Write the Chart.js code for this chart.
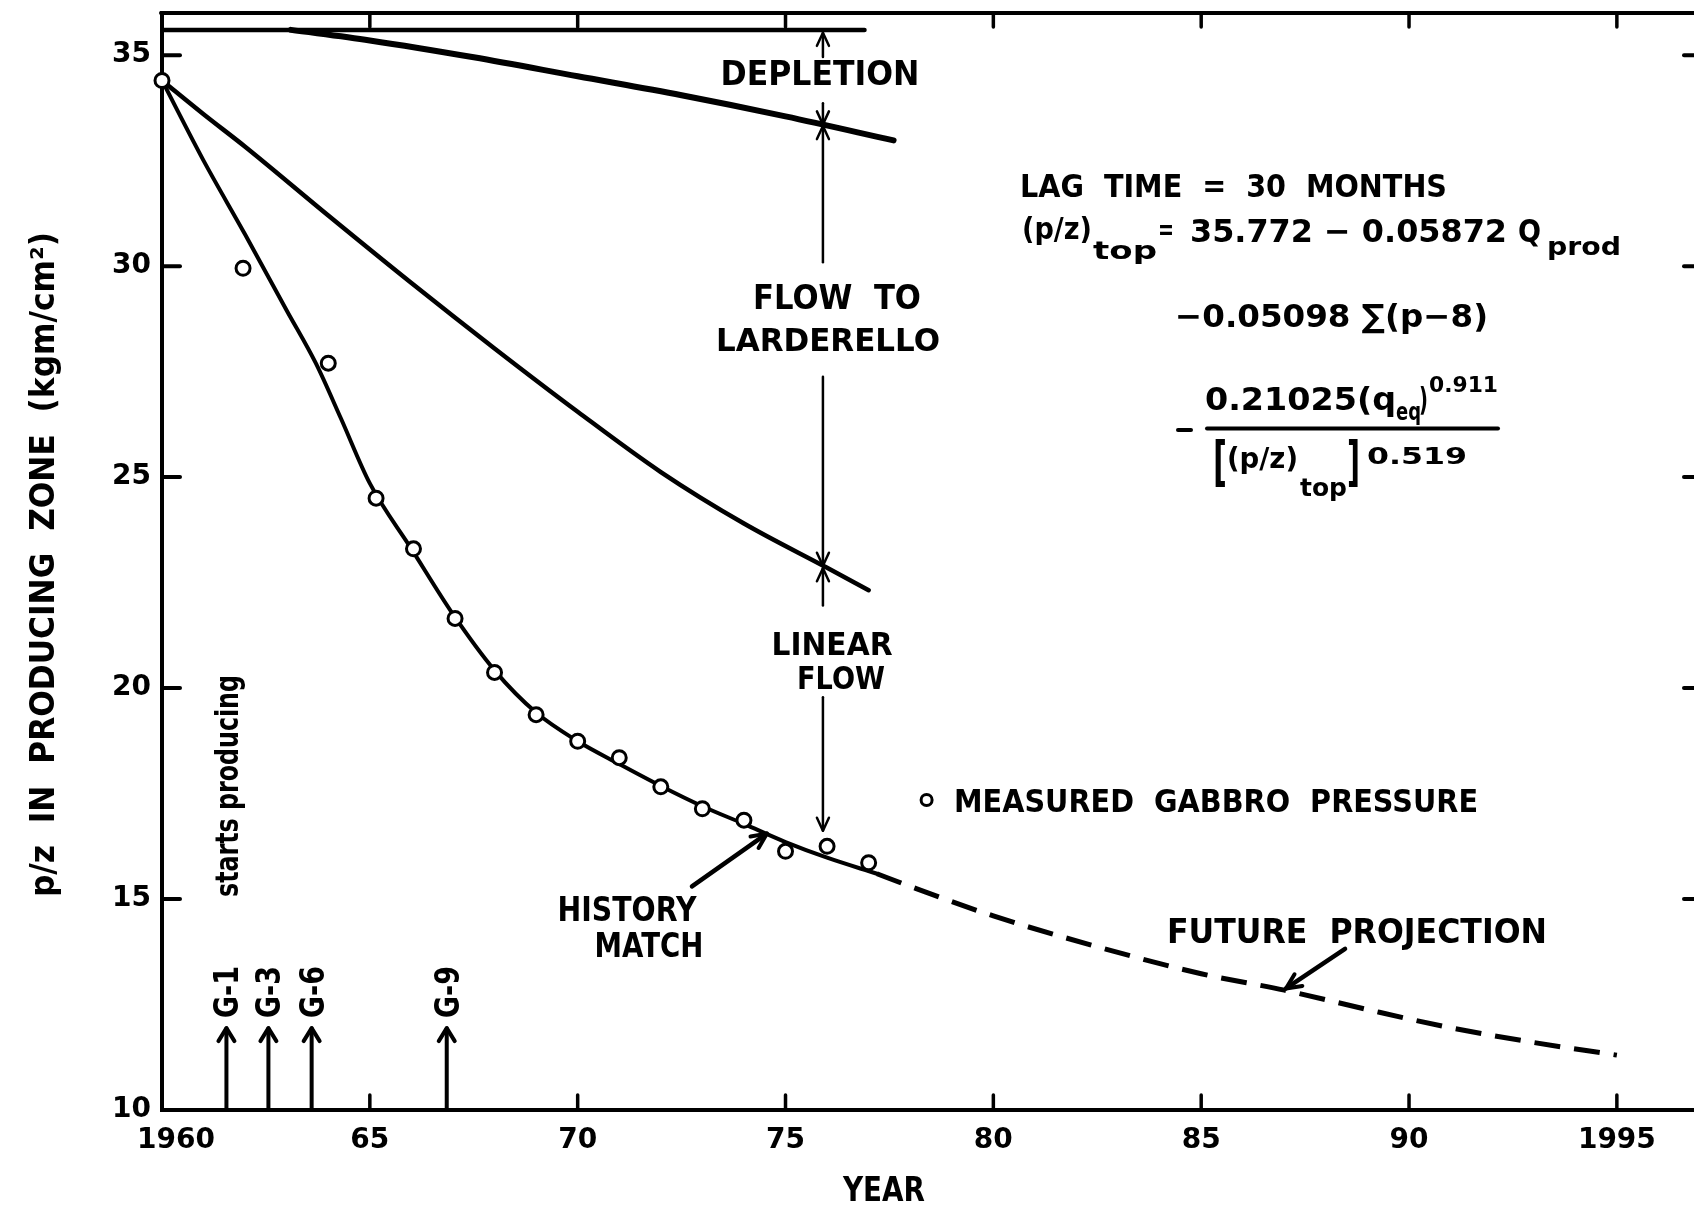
<!DOCTYPE html>
<html>
<head>
<meta charset="utf-8">
<script src="https://cdn.jsdelivr.net/npm/chart.js@4.4.1/dist/chart.umd.min.js"></script>
<style>
  html, body { margin: 0; padding: 0; background: #fff; overflow: hidden; }
  #wrap { width: 1720px; height: 1207px; position: relative; background: #fff; }
  canvas { display: block; }
</style>
</head>
<body>
<div id="wrap"><canvas id="c" width="1720" height="1207"></canvas></div>
<script>
// ---------------- data ----------------
const xTickValues = [1960, 1965, 1970, 1975, 1980, 1985, 1990, 1995];
const xTickLabels = ['\u20031960', '65', '70', '75', '80', '85', '90', '1995'];
const yTickValues = [10, 15, 20, 25, 30, 35];
const yTickLabels = ['10', '15', '20', '25', '30', '35'];

const measuredYears = [1960, 1961.95, 1964, 1965.15, 1966.05, 1967.05, 1968, 1969, 1970, 1971, 1972, 1973, 1974, 1975, 1976, 1977];
const measuredPZ    = [34.4, 29.95, 27.7, 24.5, 23.3, 21.65, 20.37, 19.37, 18.74, 18.35, 17.66, 17.14, 16.87, 16.13, 16.25, 15.86];

const historyYears = [1960, 1961, 1962, 1963, 1963.7, 1964.3, 1965, 1966, 1967, 1968, 1969, 1970, 1971, 1972, 1973, 1974, 1975, 1976, 1977.2];
const historyPZ    = [34.4, 32.5, 30.75, 28.95, 27.7, 26.4, 24.85, 23.3, 21.75, 20.42, 19.42, 18.74, 18.2, 17.68, 17.2, 16.78, 16.35, 15.98, 15.6];

const projectionYears = [1977.2, 1978, 1980, 1982.5, 1985, 1987, 1989, 1991, 1993, 1995];
const projectionPZ    = [15.6, 15.3, 14.6, 13.87, 13.23, 12.84, 12.38, 11.95, 11.6, 11.3];

const larderelloYears = [1960, 1961, 1962, 1964, 1966, 1968, 1970, 1972, 1974, 1976, 1977];
const larderelloPZ    = [34.4, 33.6, 32.83, 31.2, 29.6, 28.05, 26.55, 25.12, 23.9, 22.85, 22.32];

const depletionYears = [1963.1, 1965, 1967.5, 1970, 1972.5, 1975, 1977.6];
const depletionPZ    = [35.6, 35.35, 34.95, 34.5, 34.05, 33.55, 32.98];

const initialTopYears = [1960, 1976.9];
const initialTopPZ    = [35.6, 35.6];

const wellNames = ['G-1', 'G-3', 'G-6', 'G-9'];
const wellYears = [1961.55, 1962.56, 1963.6, 1966.85];
const wellArrowTopPZ = 11.94;

const dimensionYear = 1975.9;

// ---------------- helpers ----------------
const FONT = "'DejaVu Sans', 'Liberation Sans', sans-serif";
const pts = (xs, ys) => xs.map((x, i) => ({ x: x, y: ys[i] }));

function textBox(ctx, s, left, right, baseline, size) {
  ctx.save();
  ctx.font = 'bold ' + size + 'px ' + FONT;
  ctx.textAlign = 'left';
  ctx.textBaseline = 'alphabetic';
  const w = ctx.measureText(s).width;
  ctx.translate(left, baseline);
  ctx.scale((right - left) / w, 1);
  ctx.fillText(s, 0, 0);
  ctx.restore();
}
function textC(ctx, s, cx, cy, cap, w) {
  textBox(ctx, s, cx - w / 2, cx + w / 2, cy + cap / 2, cap / 0.729);
}
function textR(ctx, s, cx, yBottom, yTop, cap) {
  ctx.save();
  ctx.translate(cx, yBottom);
  ctx.rotate(-Math.PI / 2);
  textBox(ctx, s, 0, yBottom - yTop, cap / 2, cap / 0.729);
  ctx.restore();
}

const annot = {
  id: 'annot',
  afterDraw(chart) {
    const ctx = chart.ctx, xs = chart.scales.x, ys = chart.scales.y, a = chart.chartArea;
    const X = v => xs.getPixelForValue(v), Y = v => ys.getPixelForValue(v);
    ctx.save();
    ctx.strokeStyle = '#000'; ctx.fillStyle = '#000';
    ctx.lineCap = 'round'; ctx.lineJoin = 'round';
    const seg = (x1, y1, x2, y2, w) => { ctx.lineWidth = w; ctx.beginPath(); ctx.moveTo(x1, y1); ctx.lineTo(x2, y2); ctx.stroke(); };
    const head = (tx, ty, fx, fy, len, half, w) => {
      const ang = Math.atan2(ty - fy, tx - fx), ux = Math.cos(ang), uy = Math.sin(ang);
      const bx = tx - ux * len, by = ty - uy * len;
      ctx.lineWidth = w; ctx.beginPath();
      ctx.moveTo(bx - uy * half, by + ux * half); ctx.lineTo(tx, ty); ctx.lineTo(bx + uy * half, by - ux * half);
      ctx.stroke();
    };

    // frame (top / right) and inward ticks
    seg(a.left - 1, a.top, a.right, a.top, 4);
    seg(a.right, a.top, a.right, a.bottom, 4);
    xTickValues.forEach(v => {
      if (v === xTickValues[0]) return;
      seg(X(v), a.bottom, X(v), a.bottom - 15, 3.5);
      seg(X(v), a.top, X(v), a.top + 14, 3.5);
    });
    yTickValues.forEach(v => {
      if (v === yTickValues[0]) return;
      seg(a.left, Y(v), a.left + 18, Y(v), 4);
      seg(a.right, Y(v), a.right - 16, Y(v), 4);
    });

    // dimension arrows at 1976
    const dx = X(dimensionYear), lw = 2.5, hl = 13, hw = 6;
    seg(dx, Y(35.53), dx, Y(34.96), lw); head(dx, Y(35.53), dx, Y(34.96), hl, hw, lw);
    seg(dx, Y(33.86), dx, Y(33.36), lw); head(dx, Y(33.36), dx, Y(33.86), hl, hw, lw);
    seg(dx, Y(33.32), dx, Y(30.09), lw); head(dx, Y(33.32), dx, Y(30.09), hl, hw, lw);
    seg(dx, Y(27.38), dx, Y(22.9), lw);  head(dx, Y(22.9), dx, Y(27.38), hl, hw, lw);
    seg(dx, Y(22.84), dx, Y(21.96), lw); head(dx, Y(22.84), dx, Y(21.96), hl, hw, lw);
    seg(dx, Y(19.78), dx, Y(16.62), lw); head(dx, Y(16.62), dx, Y(19.78), hl, hw, lw);

    textC(ctx, 'DEPLETION', 820, 72.5, 25, 199);
    textC(ctx, 'FLOW  TO', 837, 297, 24, 168);
    textC(ctx, 'LARDERELLO', 828, 339, 23, 224);
    textC(ctx, 'LINEAR', 832, 643, 23, 121);
    textC(ctx, 'FLOW', 841, 677, 23, 88);

    // well start arrows
    wellYears.forEach((yr, i) => {
      const wx = X(yr);
      seg(wx, Y(10), wx, Y(wellArrowTopPZ), 4);
      head(wx, Y(wellArrowTopPZ), wx, Y(10), 13, 8, 4);
      textR(ctx, wellNames[i], wx, 1018, 966, 24);
    });
    textR(ctx, 'starts producing', X(wellYears[0]), 897, 675, 23);

    // history match arrow
    const hx1 = X(1972.75), hy1 = Y(15.3), hx2 = X(1974.55), hy2 = Y(16.55);
    seg(hx1, hy1, hx2, hy2, 4.5); head(hx2, hy2, hx1, hy1, 15, 7, 4);
    textC(ctx, 'HISTORY', 627, 908, 25, 139);
    textC(ctx, 'MATCH', 649, 944, 25, 109);

    // future projection arrow
    const fx1 = X(1988.46), fy1 = Y(13.82), fx2 = X(1987.04), fy2 = Y(12.88);
    seg(fx1, fy1, fx2, fy2, 4.5); head(fx2, fy2, fx1, fy1, 15, 7, 4);
    textC(ctx, 'FUTURE  PROJECTION', 1357, 930, 25, 380);

    // legend
    ctx.lineWidth = 3; ctx.beginPath(); ctx.arc(926.6, 800, 5.5, 0, Math.PI * 2); ctx.stroke();
    textC(ctx, 'MEASURED  GABBRO  PRESSURE', 1216, 800, 23, 524);

    // formula
    textBox(ctx, 'LAG  TIME  =  30  MONTHS', 1020, 1447, 196.7, 32);
    textBox(ctx, '(p/z)', 1022, 1092, 239, 30);
    textBox(ctx, 'top', 1093, 1157, 259, 25);
    textBox(ctx, '=', 1158, 1174, 239, 28);
    textBox(ctx, '35.772 \u2212 0.05872', 1190, 1507, 241.7, 32);
    textBox(ctx, 'Q', 1518, 1541, 241.7, 32);
    textBox(ctx, 'prod', 1547, 1621, 255, 25);
    textBox(ctx, '\u22120.05098 \u2211(p\u22128)', 1175, 1488, 327, 32);
    textBox(ctx, '0.21025(q', 1205, 1396, 410, 32);
    textBox(ctx, 'eq', 1396, 1421, 420, 24);
    textBox(ctx, ')', 1419, 1428, 410, 32);
    textBox(ctx, '0.911', 1429, 1498, 391.7, 21);
    seg(1178, 430, 1191, 430, 4);
    seg(1207, 428.5, 1498, 428.5, 4);
    textBox(ctx, '[', 1213, 1227, 480, 53);
    textBox(ctx, '(p/z)', 1227, 1298, 468, 28);
    textBox(ctx, 'top', 1300, 1347, 496, 25);
    textBox(ctx, ']', 1347, 1360, 480, 53);
    textBox(ctx, '0.519', 1367, 1467, 464, 23);

    // axis titles
    textR(ctx, 'p/z  IN  PRODUCING  ZONE  (kgm/cm\u00B2)', 42, 897, 232, 24);
    textC(ctx, 'YEAR', 884, 1189, 24, 82);

    ctx.restore();
  }
};

const tickFont = { family: FONT, size: 28, weight: 'bold' };
const targetRight = 1700;   // right frame just outside the 1694 px window

const chart = new Chart(document.getElementById('c'), {
  type: 'line',
  data: {
    datasets: [
      { label: 'Measured Gabbro pressure', data: pts(measuredYears, measuredPZ), showLine: false,
        pointRadius: 7, pointBorderWidth: 3, pointBackgroundColor: '#fff', pointBorderColor: '#000',
        borderColor: '#000', clip: false },
      { label: 'History match', data: pts(historyYears, historyPZ), borderColor: '#000', borderWidth: 4,
        pointRadius: 0, cubicInterpolationMode: 'monotone', borderCapStyle: 'round' },
      { label: 'Future projection', data: pts(projectionYears, projectionPZ), borderColor: '#000', borderWidth: 5,
        borderDash: [26, 14], pointRadius: 0, cubicInterpolationMode: 'monotone' },
      { label: 'Flow to Larderello', data: pts(larderelloYears, larderelloPZ), borderColor: '#000', borderWidth: 4.5,
        pointRadius: 0, cubicInterpolationMode: 'monotone', borderCapStyle: 'round' },
      { label: 'Depletion', data: pts(depletionYears, depletionPZ), borderColor: '#000', borderWidth: 6,
        pointRadius: 0, cubicInterpolationMode: 'monotone', borderCapStyle: 'round' },
      { label: '(p/z)top initial', data: pts(initialTopYears, initialTopPZ), borderColor: '#000', borderWidth: 4.5,
        pointRadius: 0, borderCapStyle: 'round' }
    ]
  },
  options: {
    responsive: false,
    animation: false,
    devicePixelRatio: 1,
    layout: { padding: { left: 0, right: 20, top: 13, bottom: 0 } },
    plugins: { legend: { display: false }, tooltip: { enabled: false } },
    scales: {
      x: {
        type: 'linear', min: 1960, max: 1997,
        afterBuildTicks: s => { s.ticks = xTickValues.map(v => ({ value: v })); },
        afterFit: s => { s.height = 97; s.paddingLeft = 0; s.paddingRight = 0; },
        ticks: {
          callback: v => xTickLabels[xTickValues.indexOf(v)],
          font: tickFont, color: '#000', padding: 14, maxRotation: 0, autoSkip: false
        },
        grid: { display: false, drawTicks: false },
        border: { display: true, color: '#000', width: 4 }
      },
      y: {
        type: 'linear', min: 10, max: 36,
        afterBuildTicks: s => { s.ticks = yTickValues.map(v => ({ value: v })); },
        afterFit: s => { s.width = 162; s.paddingTop = 0; s.paddingBottom = 0; },
        ticks: {
          callback: v => yTickLabels[yTickValues.indexOf(v)],
          font: tickFont, color: '#000', padding: 11, autoSkip: false
        },
        grid: { display: false, drawTicks: false },
        border: { display: true, color: '#000', width: 4 }
      }
    }
  },
  plugins: [annot]
});

// make the plot area end exactly at targetRight
const diff = chart.chartArea.right - targetRight;
if (Math.abs(diff) > 0.25) {
  chart.options.layout.padding.right = Math.max(0, 20 + diff);
  chart.update();
}
</script>
</body>
</html>
